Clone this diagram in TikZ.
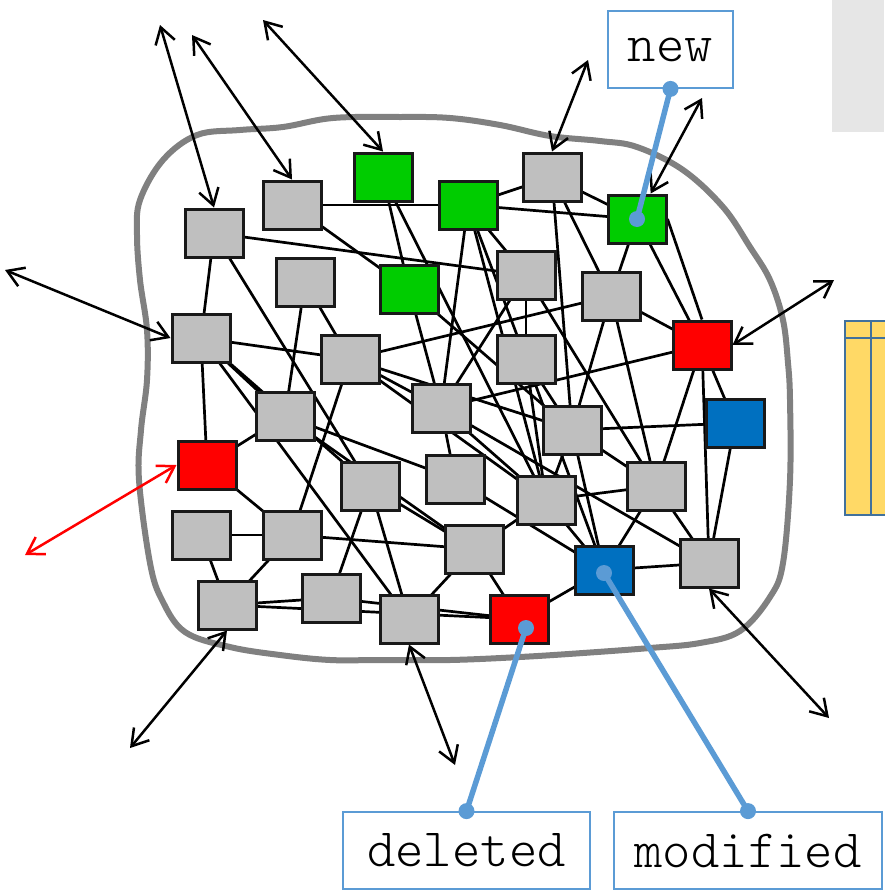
\documentclass[tikz,border=0pt]{standalone}
\usepackage{fontspec}
\newfontfamily\labelfont{Latin Modern Mono Light}
\usetikzlibrary{arrows.meta,backgrounds}
\definecolor{boxgray}{HTML}{BFBFBF}
\definecolor{newgreen}{HTML}{00CC00}
\definecolor{delred}{HTML}{FF0000}
\definecolor{modblue}{HTML}{0070C0}
\definecolor{callout}{HTML}{5B9BD5}
\definecolor{blobgray}{HTML}{808080}
\definecolor{panelgray}{HTML}{E6E6E6}
\definecolor{tabyellow}{HTML}{FFD966}
\definecolor{tabedge}{HTML}{41719C}
\tikzset{
  obj/.style={draw=black!90, line width=3pt, minimum width=58pt, minimum height=48pt, inner sep=0pt, fill=boxgray},
  added/.style={obj, fill=newgreen},
  removed/.style={obj, fill=delred},
  changed/.style={obj, fill=modblue},
  edge/.style={line width=2.7pt, black},
  ext/.style={line width=2.5pt, black, {Straight Barb[length=16pt,width=20pt]}-{Straight Barb[length=16pt,width=20pt]}},
  extred/.style={ext, delred},
  tag/.style={draw=callout, line width=1.8pt, minimum height=77pt, inner sep=0pt, font=\labelfont\fontsize{54}{54}\selectfont},
  pointer/.style={callout, line width=5.5pt},
  dot/.style={fill=callout, draw=none}
}
\begin{document}
\begin{tikzpicture}[x=1pt,y=-1pt]
\useasboundingbox (0,0) rectangle (884,894);

% side panels
\fill[panelgray] (832,0) rectangle (884,132);
\draw[fill=tabyellow, draw=tabedge, line width=2pt] (845,321) rectangle (890,515);
\draw[tabedge, line width=2pt] (871,321) -- (871,515) (845,338) -- (890,338);

% system boundary
\draw[blobgray, line width=6pt] plot[smooth cycle, tension=0.6] coordinates {
  (197,135) (240,130) (283,127) (333,118) (400,117) (450,118) (500,125) (550,136)
  (600,141) (637,147) (683,170) (723,207) (750,247) (770,280) (783,320) (788,363)
  (790,400) (790,480) (783,563) (770,597) (740,631) (700,643) (650,648) (583,653)
  (520,657) (450,660) (380,660) (330,660) (280,655) (230,647) (185,632) (162,600)
  (150,563) (139,480) (141,430) (147,380) (147,330) (140,280) (137,235) (140,200) (163,160)};

% objects
\node[obj]     (A)  at (214,233) {};
\node[obj]     (B)  at (292,205) {};
\node[added]   (G1) at (383,177) {};
\node[added]   (G2) at (468,205) {};
\node[obj]     (C)  at (552,177) {};
\node[added]   (G3) at (637,219) {};
\node[obj]     (D)  at (305,282) {};
\node[added]   (G4) at (409,289) {};
\node[obj]     (E)  at (526,275) {};
\node[obj]     (F)  at (611,296) {};
\node[removed] (R1) at (702,345) {};
\node[obj]     (H)  at (201,338) {};
\node[obj]     (I)  at (350,359) {};
\node[obj]     (J)  at (526,359) {};
\node[obj]     (K)  at (441,408) {};
\node[obj]     (L)  at (285,416) {};
\node[obj]     (M)  at (572,430) {};
\node[changed] (B1) at (735,423) {};
\node[removed] (R2) at (207,465) {};
\node[obj]     (N)  at (370,486) {};
\node[obj]     (O)  at (455,479) {};
\node[obj]     (P)  at (546,500) {};
\node[obj]     (Q)  at (656,486) {};
\node[obj]     (S)  at (201,535) {};
\node[obj]     (T)  at (292,535) {};
\node[obj]     (U)  at (474,549) {};
\node[changed] (B2) at (604,570) {};
\node[obj]     (V)  at (709,563) {};
\node[obj]     (W)  at (227,605) {};
\node[obj]     (X)  at (331,598) {};
\node[obj]     (Y)  at (409,619) {};
\node[removed] (R3) at (519,619) {};

% dependencies, drawn beneath the objects
\begin{pgfonlayer}{background}
\foreach \a/\b in {A/H, A/E, A/N, B/G2, B/G4, G1/G4, G1/P,
  G2/C, G2/G3, G2/E, G2/K, G2/J, G2/P, C/G3, C/M, C/F,
  G3/F, G3/R1, D/L, D/I, E/K, E/J, E/Q,
  F/R1, F/I, F/M, F/Q, R1/K, R1/Q, R1/V, R1/B1,
  G4/K, G4/M, H/I, H/L, H/R2, H/N, H/Y,
  I/T, I/K, I/M, I/P, J/M, J/P, J/B2,
  K/O, K/P, K/V, L/R2, L/O, L/U, R2/T,
  M/B1, M/Q, M/P, M/B2, Q/V, Q/B2, B1/V, P/Q, P/B2,
  S/T, S/W, T/W, T/U, W/X, W/R3, X/R3, X/N, N/Y, N/U,
  Y/U, U/R3, U/P, O/B2, B2/V, R3/B2}
  \draw[edge] (\a.center) -- (\b.center);
\draw[edge] (G3.east) -- (R1.north);
\end{pgfonlayer}

% interfaces to the outside
\coordinate (eA)  at (160,25);
\coordinate (eB)  at (192,35);
\coordinate (eG1) at (263,20);
\coordinate (eC)  at (588,60);
\coordinate (eG3) at (702,98);
\coordinate (eH)  at (5,270);
\coordinate (eR1) at (834,280);
\coordinate (eR2) at (25,555);
\coordinate (eW)  at (130,748);
\coordinate (eY)  at (455,765);
\coordinate (eV)  at (829,718);
\draw[ext] (eA) -- (A.north);
\draw[ext] (eB) -- (B.north);
\draw[ext] (eG1) -- (G1.north);
\draw[ext] (eC) -- (C.north);
\draw[ext] (eG3) -- (G3);
\draw[ext] (eH) -- (H.west);
\draw[ext] (eR1) -- (R1.east);
\draw[extred] (eR2) -- (R2.west);
\draw[ext] (eW) -- (W.south);
\draw[ext] (eY) -- (Y.south);
\draw[ext] (eV) -- (V.south);

% labels
\node[tag, minimum width=125pt] (tnew) at (670.5,49.5) {new};
\node[tag, minimum width=247pt] (tdel) at (466.5,850.5) {deleted};
\node[tag, minimum width=268pt] (tmod) at (748,850.5) {modified};

\coordinate (pNew) at (637,219);
\coordinate (pDel) at (526,628);
\coordinate (pMod) at (604,573);
\draw[pointer] (tnew.south) -- (pNew);
\draw[pointer] (tdel.north) -- (pDel);
\draw[pointer] (tmod.north) -- (pMod);
\foreach \p in {tnew.south, tdel.north, tmod.north, pNew, pDel, pMod}
  \fill[dot] (\p) circle (8pt);
\end{tikzpicture}
\end{document}
